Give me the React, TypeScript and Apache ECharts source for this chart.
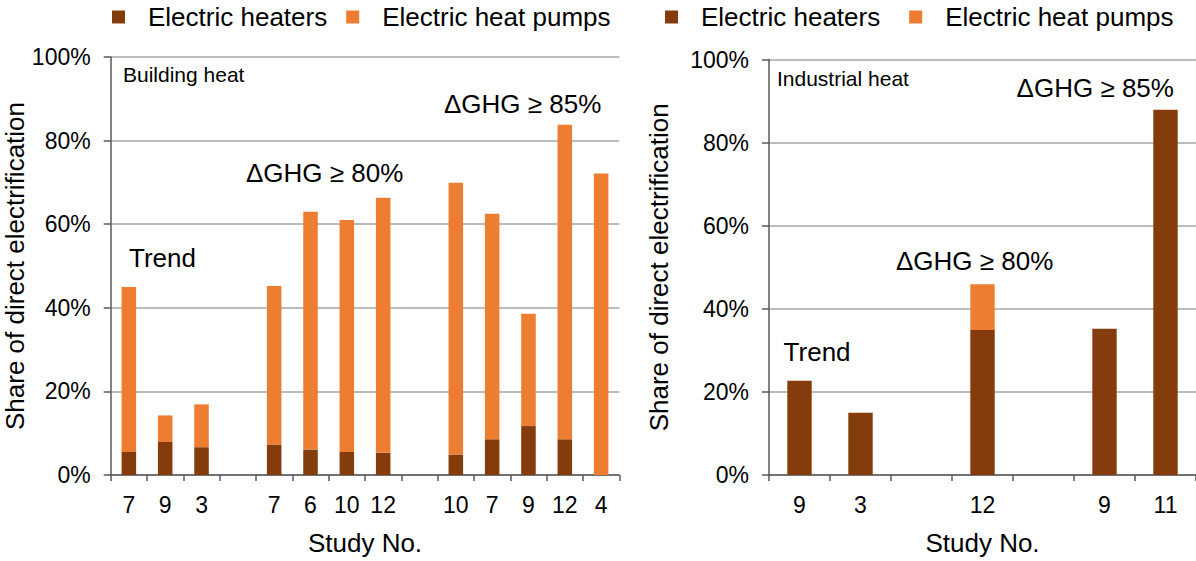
import React, { useEffect, useRef } from "react";
import * as echarts from "echarts";

const seriesNames = ["Electric heaters", "Electric heat pumps"];
const yTicks = [0, 20, 40, 60, 80, 100];

// Building heat (left panel); "" = spacer columns between scenario groups
const buildingStudies = ["7", "9", "3", "", "7", "6", "10", "12", "", "10", "7", "9", "12", "4"];
const buildingHeaters = [5.5, 7.9, 6.65, null, 7.3, 6.1, 5.5, 5.3, null, 4.9, 8.55, 11.7, 8.55, 0];
const buildingHeatPumps = [39.5, 6.35, 10.25, null, 37.9, 56.9, 55.5, 61.0, null, 65.0, 53.95, 26.9, 75.25, 72.1];

// Industrial heat (right panel)
const industryStudies = ["9", "3", "", "12", "", "9", "11"];
const industryHeaters = [22.7, 15.0, null, 34.9, null, 35.2, 87.9];
const industryHeatPumps = [0, 0, null, 11.0, null, 0, 0];

const panelLabels = ["Building heat", "Industrial heat"];
const groupLabels = ["Trend", "\u0394GHG \u2265 80%", "\u0394GHG \u2265 85%"];

const FONT = "'Liberation Sans', Arial, Helvetica, sans-serif";
const HEATER = "#843C0C";
const PUMP = "#ED7D31";

export default function App() {
  const ref = useRef<HTMLDivElement>(null);

  useEffect(() => {
    if (!ref.current) return;
    const chart = echarts.init(ref.current, null, { renderer: "svg" });

    const yAxisBase = (gridIndex: number, nameGap: number) => ({
      type: "value",
      gridIndex,
      min: yTicks[0],
      max: yTicks[yTicks.length - 1],
      interval: 20,
      name: "Share of direct electrification",
      nameLocation: "middle",
      nameGap,
      nameTextStyle: { fontFamily: FONT, fontSize: 26, color: "#000" },
      axisLine: { show: true, lineStyle: { color: "#595959", width: 1.5 } },
      axisTick: { show: true, length: 7, lineStyle: { color: "#595959", width: 1.5 } },
      axisLabel: { formatter: "{value}%", fontFamily: FONT, fontSize: 23, color: "#000", margin: 20 },
      splitLine: { show: true, lineStyle: { color: "#A6A6A6", width: 1.5 } },
    });

    const xAxisBase = (gridIndex: number, data: string[]) => ({
      type: "category",
      gridIndex,
      data,
      name: "Study No.",
      nameLocation: "middle",
      nameGap: 55,
      nameTextStyle: { fontFamily: FONT, fontSize: 26, color: "#000" },
      axisLine: { show: true, lineStyle: { color: "#595959", width: 1.5 } },
      axisTick: { show: true, length: 6, alignWithLabel: false, lineStyle: { color: "#595959", width: 1.5 } },
      axisLabel: { fontFamily: FONT, fontSize: 23, color: "#000", margin: 18, interval: 0 },
      splitLine: { show: false },
    });

    const legendBase = (left: number, itemGap: number) => ({
      left,
      top: 4,
      padding: 0,
      itemWidth: 13,
      itemHeight: 13,
      itemGap,
      icon: "rect",
      data: seriesNames,
      textStyle: { fontFamily: FONT, fontSize: 26, color: "#000", padding: [0, 0, 0, 18] },
      selectedMode: false,
    });

    const txt = (x: number, y: number, text: string, size: number) => ({
      type: "text",
      x,
      y,
      style: { text, fontFamily: FONT, fontSize: size, fill: "#000", verticalAlign: "middle", align: "left" },
    });

    const bar = (name: string, idx: number, data: (number | null)[], color: string, stack: string) => ({
      name,
      type: "bar",
      stack,
      xAxisIndex: idx,
      yAxisIndex: idx,
      data,
      barWidth: "40%",
      itemStyle: { color },
    });

    chart.setOption({
      animation: false,
      legend: [legendBase(112, 19), legendBase(665, 29)],
      grid: [
        { left: 110.7, right: 1196 - 619.3, top: 57, bottom: 561 - 477.7, containLabel: false },
        { left: 769, right: 0, top: 59.6, bottom: 561 - 483.7, containLabel: false },
      ],
      xAxis: [xAxisBase(0, buildingStudies), xAxisBase(1, industryStudies)],
      yAxis: [yAxisBase(0, 83), yAxisBase(1, 97)],
      series: [
        bar(seriesNames[0], 0, buildingHeaters, HEATER, "b"),
        bar(seriesNames[1], 0, buildingHeatPumps, PUMP, "b"),
        bar(seriesNames[0], 1, industryHeaters, HEATER, "i"),
        bar(seriesNames[1], 1, industryHeatPumps, PUMP, "i"),
      ],
      graphic: [
        txt(123, 74, panelLabels[0], 21),
        txt(129, 258, groupLabels[0], 26),
        txt(246, 173, groupLabels[1], 26),
        txt(444, 104, groupLabels[2], 26),
        txt(777, 78.6, panelLabels[1], 21),
        txt(783.6, 352, groupLabels[0], 26),
        txt(896, 261, groupLabels[1], 26),
        txt(1016.6, 87.5, groupLabels[2], 26),
      ],
    });

    return () => chart.dispose();
  }, []);

  return (
    <div
      ref={ref}
      style={{ position: "fixed", left: 0, top: 0, width: 1196, height: 561, background: "#fff" }}
    />
  );
}
